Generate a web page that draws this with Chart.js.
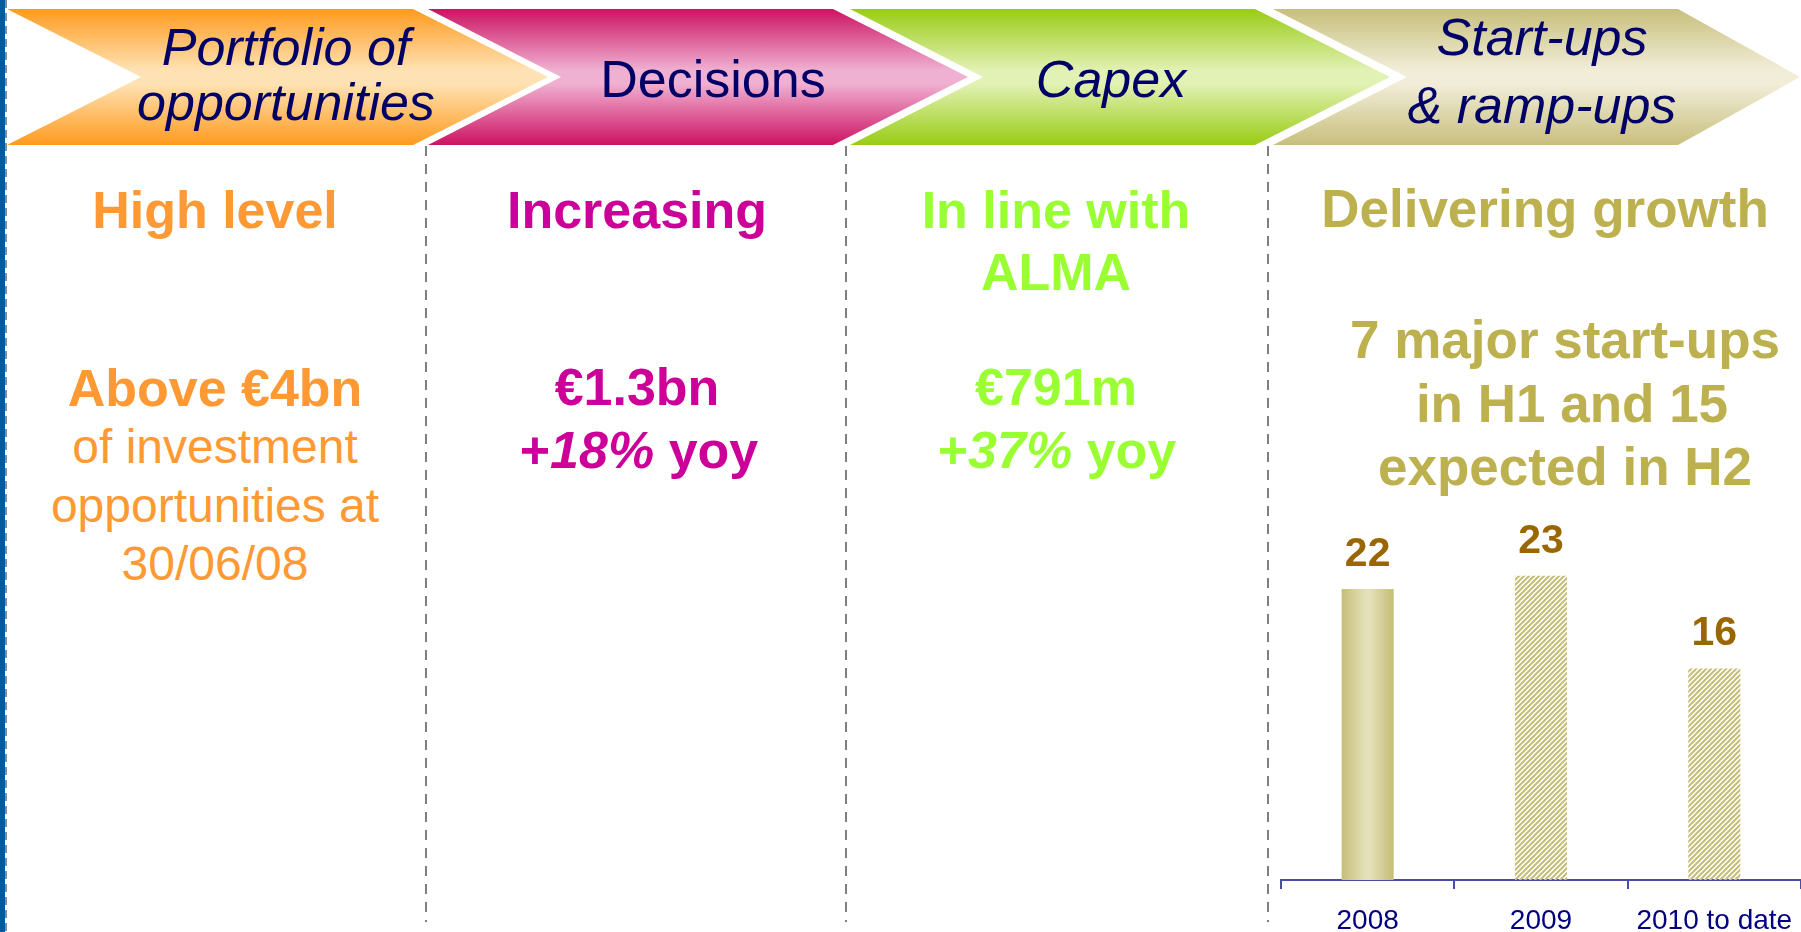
<!DOCTYPE html>
<html>
<head>
<meta charset="utf-8">
<script src="https://cdn.jsdelivr.net/npm/chart.js@4.4.0/dist/chart.umd.min.js"></script>
<style>
  html, body { margin: 0; padding: 0; background: #fff; overflow: hidden; }
  #slide { position: relative; width: 1801px; height: 932px; overflow: hidden; }
  #deco { position: absolute; left: 0; top: 0; }
  #deco text { font-family: "Liberation Sans", Arial, sans-serif; text-anchor: middle; }
  .arrowTxt { font-size: 52px; fill: #000066; }
  .head { font-size: 52px; font-weight: bold; }
  .big { font-size: 53px; font-weight: bold; }
  .body { font-size: 48px; }
  #chartBox { position: absolute; left: 1270px; top: 470px; width: 541px; height: 483px; }
</style>
</head>
<body>
<div id="slide">
  <svg id="deco" width="1801" height="932">
    <defs>
      <linearGradient id="gOrange" x1="0" y1="0" x2="0" y2="1">
        <stop offset="0" stop-color="#ff9a1e"/>
        <stop offset="0.45" stop-color="#ffe2b3"/>
        <stop offset="0.55" stop-color="#ffe2b3"/>
        <stop offset="1" stop-color="#ff9a1e"/>
      </linearGradient>
      <linearGradient id="gPink" x1="0" y1="0" x2="0" y2="1">
        <stop offset="0" stop-color="#cc1362"/>
        <stop offset="0.45" stop-color="#f0b0d2"/>
        <stop offset="0.55" stop-color="#f0b0d2"/>
        <stop offset="1" stop-color="#cc1362"/>
      </linearGradient>
      <linearGradient id="gGreen" x1="0" y1="0" x2="0" y2="1">
        <stop offset="0" stop-color="#99cc14"/>
        <stop offset="0.45" stop-color="#e2f1b4"/>
        <stop offset="0.55" stop-color="#e2f1b4"/>
        <stop offset="1" stop-color="#99cc14"/>
      </linearGradient>
      <linearGradient id="gTan" x1="0" y1="0" x2="0" y2="1">
        <stop offset="0" stop-color="#c8bf7c"/>
        <stop offset="0.45" stop-color="#f1edd9"/>
        <stop offset="0.55" stop-color="#f1edd9"/>
        <stop offset="1" stop-color="#c8bf7c"/>
      </linearGradient>
    </defs>

    <!-- left edge -->
    <rect x="0" y="0" width="5" height="932" fill="#005a9e"/>
    <line x1="6" y1="0" x2="6" y2="932" stroke="#8c8c8c" stroke-width="2" stroke-dasharray="8 5"/>

    <!-- process chevrons -->
    <polygon points="7,9 413,9 548,77 413,145 7,145 141,77" fill="url(#gOrange)"/>
    <polygon points="428,9 833,9 968,77 833,145 428,145 561,77" fill="url(#gPink)"/>
    <polygon points="850,9 1255,9 1390,77 1255,145 850,145 983,77" fill="url(#gGreen)"/>
    <polygon points="1273,9 1678,9 1800,77 1678,145 1273,145 1407,77" fill="url(#gTan)"/>

    <text class="arrowTxt" x="286" y="65" font-style="italic">Portfolio of</text>
    <text class="arrowTxt" x="286" y="120" font-style="italic">opportunities</text>
    <text class="arrowTxt" x="713" y="97">Decisions</text>
    <text class="arrowTxt" x="1111" y="97" font-style="italic">Capex</text>
    <text class="arrowTxt" x="1542" y="55" font-style="italic">Start-ups</text>
    <text class="arrowTxt" x="1542" y="123" font-style="italic">&amp; ramp-ups</text>

    <!-- column dividers -->
    <g stroke="#808080" stroke-width="2" stroke-dasharray="10 8">
      <line x1="426" y1="146" x2="426" y2="922"/>
      <line x1="846" y1="146" x2="846" y2="922"/>
      <line x1="1268" y1="146" x2="1268" y2="922"/>
    </g>

    <!-- column 1 -->
    <g fill="#ff9933">
      <text class="head" x="215" y="228">High level</text>
      <text class="head" x="215" y="406">Above €4bn</text>
      <text class="body" x="215" y="463">of investment</text>
      <text class="body" x="215" y="522">opportunities at</text>
      <text class="body" x="215" y="580">30/06/08</text>
    </g>

    <!-- column 2 -->
    <g fill="#cc0099">
      <text class="head" x="637" y="228">Increasing</text>
      <text class="head" x="637" y="405">€1.3bn</text>
      <text class="head" x="639" y="468">+<tspan font-style="italic">18%</tspan> yoy</text>
    </g>

    <!-- column 3 -->
    <g fill="#99ff33">
      <text class="head" x="1056" y="228">In line with</text>
      <text class="head" x="1056" y="290">ALMA</text>
      <text class="head" x="1056" y="405">€791m</text>
      <text class="head" x="1057" y="468">+<tspan font-style="italic">37%</tspan> yoy</text>
    </g>

    <!-- column 4 -->
    <g fill="#bcb04f">
      <text class="big" x="1545" y="227">Delivering growth</text>
      <text class="big" x="1565" y="358">7 major start-ups</text>
      <text class="big" x="1572" y="422">in H1 and 15</text>
      <text class="big" x="1565" y="485">expected in H2</text>
    </g>
  </svg>

  <div id="chartBox"><canvas id="startups" width="541" height="483"></canvas></div>
</div>

<script>
const categories = ['2008', '2009', '2010 to date'];
const startUps = [22, 23, 16];

const tan = '#c6bd76';
const tanLight = '#e4e0b9';
const axisBlue = '#4b4ba8';
const fontFamily = '"Liberation Sans", Arial, sans-serif';
const barShare = 0.3;

// diagonal hatch for the later years
function makeHatch() {
  const s = 5;
  const c = document.createElement('canvas');
  c.width = s;
  c.height = s;
  const g = c.getContext('2d');
  g.strokeStyle = tan;
  g.lineWidth = 2;
  g.beginPath();
  g.moveTo(-1, s + 1); g.lineTo(s + 1, -1);
  g.moveTo(-1, 1); g.lineTo(1, -1);
  g.moveTo(s - 1, s + 1); g.lineTo(s + 1, s - 1);
  g.stroke();
  return g.createPattern(c, 'repeat');
}
const hatch = makeHatch();

function barFill(ctx) {
  if (ctx.type !== 'data') return tan;
  if (ctx.dataIndex !== 0) return hatch;
  const chart = ctx.chart;
  const x = chart.scales.x;
  if (!x || !chart.chartArea) return tan;
  const cx = x.getPixelForValue(0);
  const half = (x.width / categories.length) * barShare / 2;
  const g = chart.ctx.createLinearGradient(cx - half, 0, cx + half, 0);
  g.addColorStop(0, tan);
  g.addColorStop(0.45, tanLight);
  g.addColorStop(0.55, tanLight);
  g.addColorStop(1, tan);
  return g;
}

const valueLabels = {
  id: 'valueLabels',
  afterDatasetsDraw(chart) {
    const c = chart.ctx;
    const meta = chart.getDatasetMeta(0);
    c.save();
    c.font = 'bold 41px ' + fontFamily;
    c.fillStyle = '#996600';
    c.textAlign = 'center';
    c.textBaseline = 'alphabetic';
    meta.data.forEach((bar, i) => {
      c.fillText(String(startUps[i]), bar.x, bar.y - 23);
    });
    c.restore();
  }
};

new Chart(document.getElementById('startups').getContext('2d'), {
  type: 'bar',
  data: {
    labels: categories,
    datasets: [{
      data: startUps,
      backgroundColor: barFill,
      borderWidth: 0,
      barPercentage: barShare,
      categoryPercentage: 1
    }]
  },
  options: {
    responsive: false,
    animation: false,
    devicePixelRatio: 1,
    layout: { padding: { left: 11, right: 5, top: 0, bottom: 0 } },
    plugins: { legend: { display: false }, tooltip: { enabled: false } },
    scales: {
      x: {
        grid: {
          display: true,
          drawOnChartArea: false,
          drawTicks: true,
          tickLength: 9,
          color: axisBlue,
          lineWidth: 2,
          offset: true
        },
        border: { display: true, color: axisBlue, width: 2 },
        ticks: {
          color: '#000080',
          font: { family: fontFamily, size: 28, lineHeight: 1 },
          padding: 18,
          maxRotation: 0,
          autoSkip: false
        }
      },
      y: { display: false, min: 0, max: 31 }
    }
  },
  plugins: [valueLabels]
});
</script>
</body>
</html>
